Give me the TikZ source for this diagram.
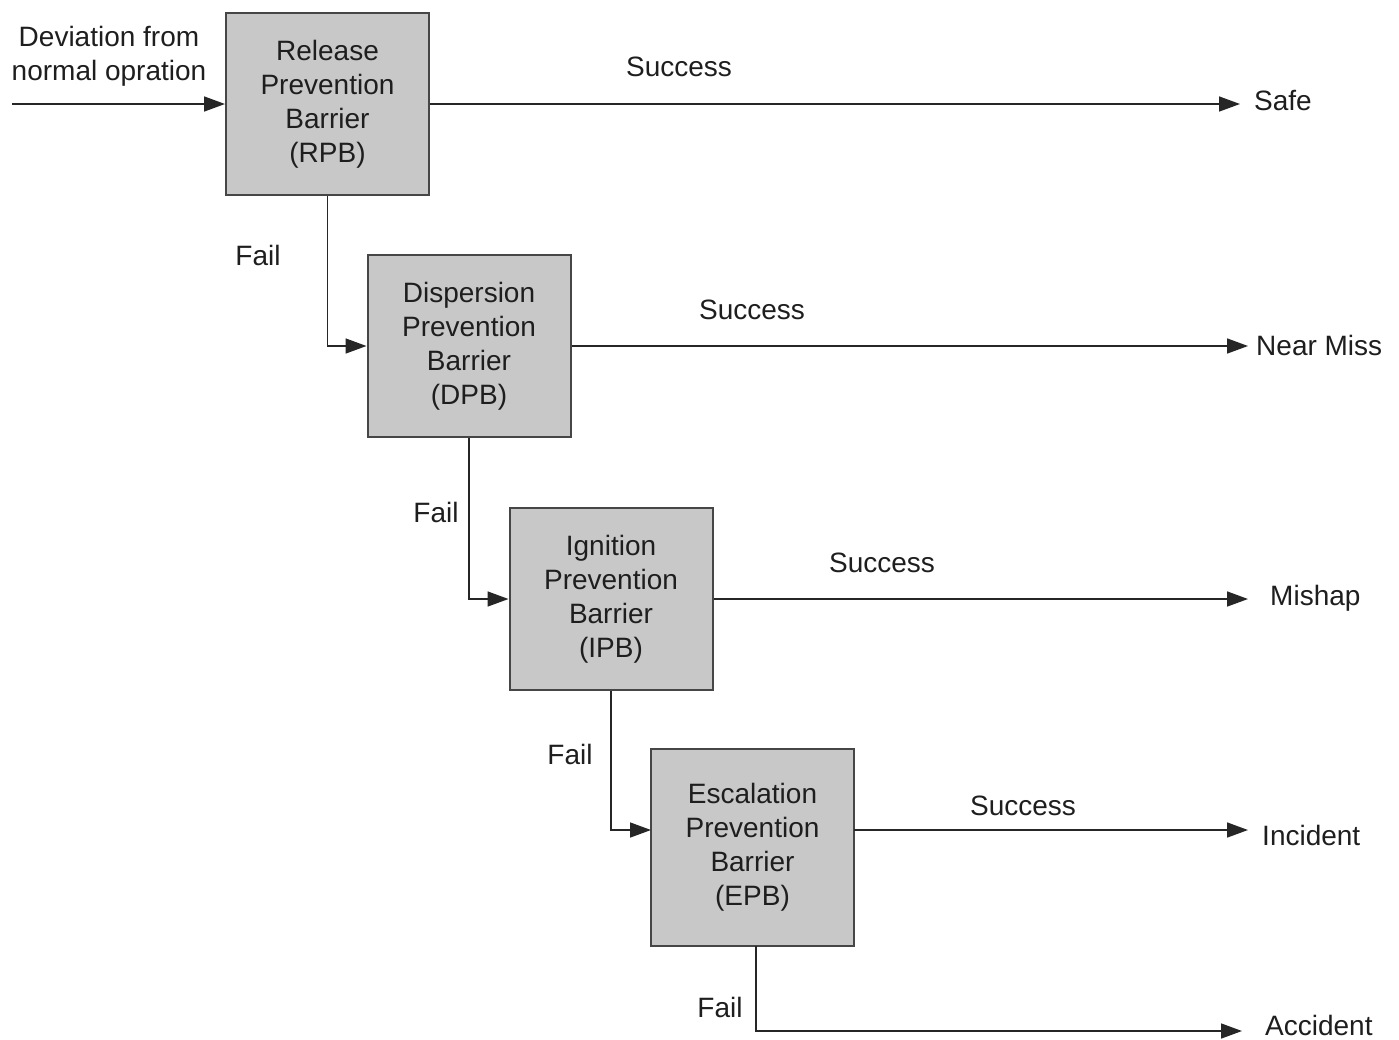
\documentclass[tikz,border=0pt]{standalone}
\usepackage{fontspec}
\setmainfont{Liberation Sans}
\usetikzlibrary{arrows.meta}
\definecolor{boxfill}{RGB}{200,200,200}
\definecolor{boxline}{RGB}{70,70,70}
\definecolor{txt}{RGB}{30,30,30}
\begin{document}
\begin{tikzpicture}[x=1pt,y=-1pt,
  barrier/.style={draw=boxline,line width=2pt,fill=boxfill,minimum width=203pt,minimum height=182pt,inner sep=0pt,align=center,text=txt,font=\fontsize{28}{34}\selectfont},
  lbl/.style={text=txt,font=\fontsize{28}{34}\selectfont,inner sep=0pt},
  conn/.style={draw=black!85,line width=1.6pt},
  arr/.style={conn,-{Triangle[length=21pt,width=15pt]}}]
\useasboundingbox (0,0) rectangle (1399,1039);
% boxes
\node[barrier] (rpb) at (327.5,104) {Release\\Prevention\\Barrier\\(RPB)};
\node[barrier] (dpb) at (469,346) {Dispersion\\Prevention\\Barrier\\(DPB)};
\node[barrier] (ipb) at (611,599) {Ignition\\Prevention\\Barrier\\(IPB)};
\node[barrier,minimum height=197pt] (epb) at (752.5,847.5) {Escalation\\Prevention\\Barrier\\(EPB)};
% outcome labels
\node[lbl,anchor=west] (safe) at (1254,101) {Safe};
\node[lbl,anchor=west] (near) at (1256,345) {Near Miss};
\node[lbl,anchor=west] (mish) at (1270,598) {Mishap};
\node[lbl,anchor=west] (inc) at (1262,835) {Incident};
\node[lbl,anchor=west] (acc) at (1265,1025) {Accident};
% input
\node[lbl,align=center] (dev) at (109,56) {Deviation from\\normal opration};
\coordinate (start) at (12,104);
\draw[arr] (start) -- (rpb.west);
% arrow tip coordinates
\coordinate (tsafe) at (1240,104);
\coordinate (tnear) at (1248,347);
\coordinate (tmish) at (1248,600);
\coordinate (tinc) at (1248,830);
\coordinate (tacc) at (1242,1031);
\coordinate (ein) at (651,830);
\coordinate (eout) at (854,830);
\coordinate (efail) at (756,946);
% success arrows
\draw[arr] (rpb.east) -- (tsafe);
\draw[arr] (dpb.east) -- (dpb.east -| tnear);
\draw[arr] (ipb.east) -- (ipb.east -| tmish);
\draw[arr] (eout) -- (tinc);
% fail arrows
\draw[arr] (rpb.south) |- (dpb.west);
\draw[arr] (dpb.south) |- (ipb.west);
\draw[arr] (ipb.south) |- (ein);
\draw[arr] (efail) |- (tacc);
% labels
\node[lbl] (s1) at (679,67) {Success};
\node[lbl] (s2) at (752,310) {Success};
\node[lbl] (s3) at (882,563) {Success};
\node[lbl] (s4) at (1023,806) {Success};
\node[lbl] (f1) at (258,255) {Fail};
\node[lbl] (f2) at (436,512) {Fail};
\node[lbl] (f3) at (570,754) {Fail};
\node[lbl] (f4) at (720,1007) {Fail};
\end{tikzpicture}
\end{document}
